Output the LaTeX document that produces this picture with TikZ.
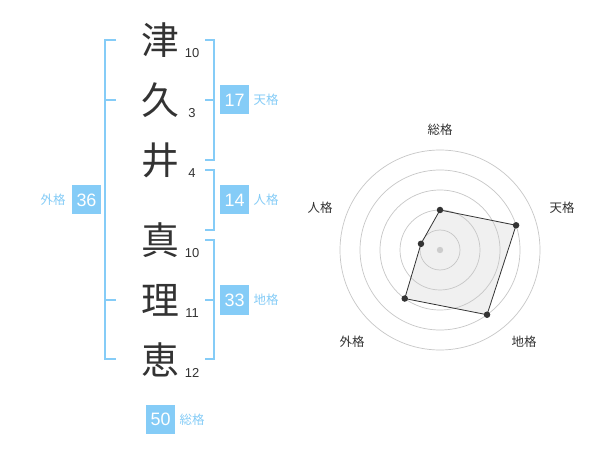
\documentclass[tikz,border=0pt]{standalone}
\usepackage{fontspec}
\setmainfont{Liberation Sans}
\newfontfamily\jp{Noto Sans CJK JP}
\definecolor{kaku}{RGB}{133,204,247}
\definecolor{ink}{RGB}{51,51,51}
\tikzset{
  kanji/.style={text=ink,font=\jp\fontsize{38}{38}\selectfont,inner sep=0pt},
  stroke/.style={text=ink,font=\fontsize{13}{13}\selectfont,inner sep=0pt},
  kakubox/.style={fill=kaku,text=white,minimum size=29bp,inner sep=0pt,
    font=\fontsize{18}{18}\selectfont},
  kakuname/.style={text=kaku,font=\jp\fontsize{12.5}{12.5}\selectfont,inner sep=0pt},
  bracket/.style={draw=kaku,line width=2bp},
  axisname/.style={text=ink,font=\jp\fontsize{12.5}{12.5}\selectfont,inner sep=0pt},
  ring/.style={draw=black!22,line width=0.7bp},
  dot/.style={circle,fill=ink,inner sep=0pt,minimum size=6.5bp}
}
\begin{document}
\begin{tikzpicture}[x=1bp,y=-1bp]
  \useasboundingbox[fill=white] (0,0) rectangle (600,470);
  % name characters
  \draw
    (160,40) node[kanji] (c1){津}
    (160,100) node[kanji] (c2){久}
    (160,160) node[kanji] (c3){井}
    (160,240) node[kanji] (c4){真}
    (160,300) node[kanji] (c5){理}
    (160,360) node[kanji] (c6){恵};
  \draw
    (192,53) node[stroke] (n1){10}
    (192,113) node[stroke] (n2){3}
    (192,173) node[stroke] (n3){4}
    (192,253) node[stroke] (n4){10}
    (192,313) node[stroke] (n5){11}
    (192,373) node[stroke] (n6){12};
  % brackets
  \draw[bracket] (116,40) -- (105,40) -- (105,359) -- (116,359);
  \draw[bracket] (105,100) -- (116,100);
  \draw[bracket] (105,300) -- (116,300);
  \draw[bracket] (205,40) -- (214,40) -- (214,160) -- (205,160);
  \draw[bracket] (205,100) -- (214,100);
  \draw[bracket] (205,170) -- (214,170) -- (214,230) -- (205,230);
  \draw[bracket] (205,240) -- (214,240) -- (214,359) -- (205,359);
  \draw[bracket] (205,300) -- (214,300);
  % scores
  \draw
    (234.5,100) node[kakubox] (ten){17}
    (234.5,200) node[kakubox] (jin){14}
    (234.5,300) node[kakubox] (chi){33}
    (86.5,200) node[kakubox] (gai){36}
    (160.5,419) node[kakubox] (sou){50};
  \draw
    (266,100) node[kakuname] (tenl){天格}
    (266,200) node[kakuname] (jinl){人格}
    (266,300) node[kakuname] (chil){地格}
    (53,200) node[kakuname] (gail){外格}
    (192,420) node[kakuname] (soul){総格};
  % radar
  \begin{scope}[shift={(440,250)}]
    \coordinate (rs) at (-90:40);
    \coordinate (rt) at (-18:80);
    \coordinate (rc) at (54:80);
    \coordinate (rg) at (126:60);
    \coordinate (rj) at (198:20);
    \fill[black!6] (rs) -- (rt) -- (rc) -- (rg) -- (rj) -- cycle;
    \foreach \r in {20,40,60,80,100}
      \draw[ring] (0,0) circle[radius=\r bp];
    \draw[ink,line width=0.8bp] (rs) -- (rt) -- (rc) -- (rg) -- (rj) -- cycle;
    \fill[black!20] (0,0) circle[radius=3.2bp];
    \foreach \p in {rs,rt,rc,rg,rj}
      \node[dot] at (\p) {};
  \end{scope}
  \draw
    (440,130) node[axisname] (as){総格}
    (562,208) node[axisname] (at){天格}
    (524,342) node[axisname] (ac){地格}
    (352,342) node[axisname] (ag){外格}
    (320,208) node[axisname] (aj){人格};
\end{tikzpicture}
\end{document}
